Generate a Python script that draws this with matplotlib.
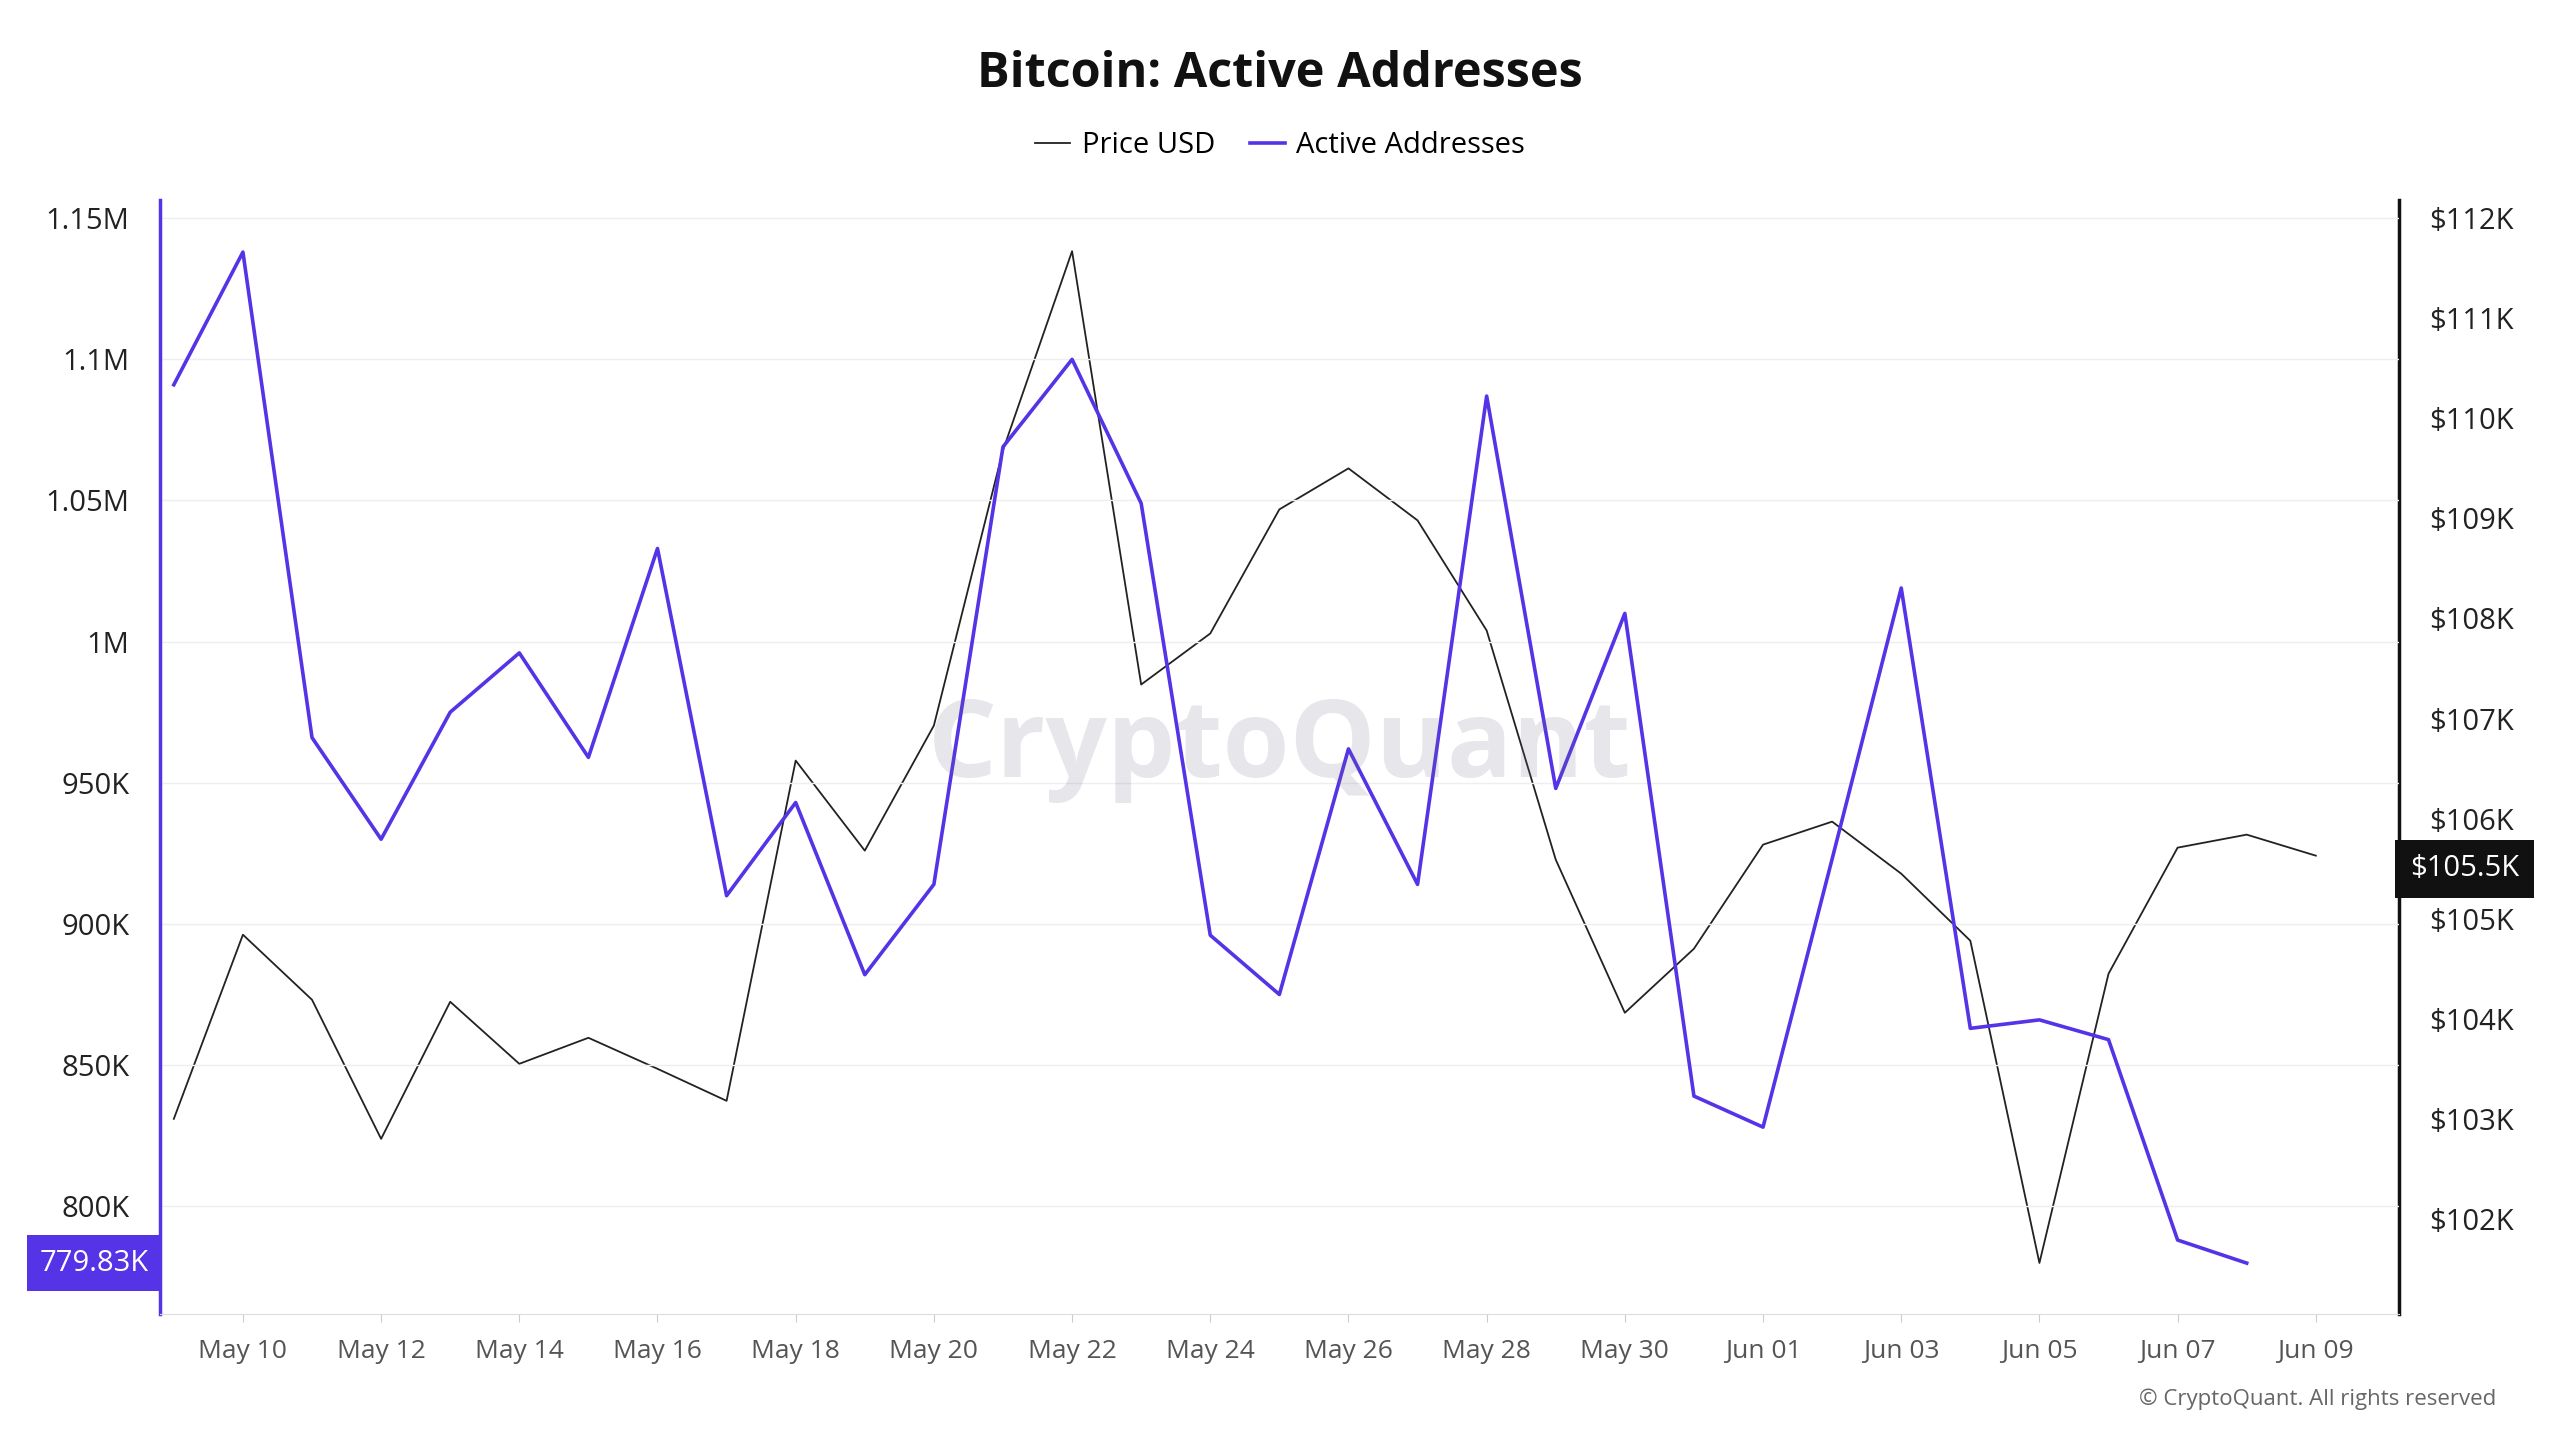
import matplotlib
matplotlib.use("Agg")
import matplotlib.pyplot as plt
import numpy as np
import pandas as pd

dates = pd.date_range("2025-05-09", "2025-06-09", freq="D")
active = [1091,1138,966,930,975,996,959,1033,910,943,882,914,1069,1100,1049,896,875,962,914,1087,948,1010,839,828,923,1019,863,866,859,788,779.83]
price = [103.0,104.84,104.19,102.80,104.17,103.55,103.81,103.50,103.18,106.58,105.68,106.93,109.68,111.67,107.34,107.85,109.09,109.50,108.98,107.88,105.59,104.06,104.70,105.74,105.97,105.45,104.78,101.56,104.45,105.71,105.84,105.63]
left_ticks = [800,850,900,950,1000,1050,1100,1150]
left_labels = ["800K","850K","900K","950K","1M","1.05M","1.1M","1.15M"]
right_ticks = list(range(102,113))

plt.rcParams["font.family"] = "Open Sans"
PURPLE = "#5533e6"
fig = plt.figure(figsize=(25.6,14.4), dpi=100)
ax = fig.add_axes([0.0625,0.0875,0.8745,0.7735])
ax2 = ax.twinx()
x = np.arange(len(dates))
ax2.plot(x, price, color="#222222", lw=1.3, zorder=2)
ax.plot(x[:len(active)], active, color=PURPLE, lw=2.6, zorder=3)
ax.set_zorder(ax2.get_zorder()+1); ax.patch.set_visible(False)
ax.set_xlim(-0.2, 32.2)
ax.set_ylim(761.8, 1156.4)
ax2.set_ylim(101.05, 112.18)
ax.set_yticks(left_ticks); ax.set_yticklabels(left_labels)
ax2.set_yticks(right_ticks); ax2.set_yticklabels([f"${t}K" for t in right_ticks])
xt = list(range(1, 32, 2))
ax.set_xticks(xt); ax.set_xticklabels([dates[i].strftime("%b %d") for i in xt])
ax.grid(axis="y", color="#eeeeee", lw=1)
for a in (ax, ax2):
    a.spines["top"].set_visible(False)
    a.tick_params(length=0, labelsize=21, colors="#222222")
ax.tick_params(axis="x", labelsize=19, colors="#555555", length=6, color="#cccccc", pad=12)
ax.tick_params(axis="y", pad=22)
ax2.tick_params(axis="y", pad=22)
ax.spines["left"].set_color(PURPLE); ax.spines["left"].set_linewidth(2.5)
ax2.spines["left"].set_visible(False)
ax.spines["right"].set_visible(False)
ax2.spines["right"].set_color("#111111"); ax2.spines["right"].set_linewidth(2.5)
ax.spines["bottom"].set_color("#dddddd"); ax2.spines["bottom"].set_visible(False)

fig.text(0.5, 0.948, "Bitcoin: Active Addresses", ha="center", va="center", fontsize=35, fontweight="bold", color="#111111")
from matplotlib.lines import Line2D
fig.legend([Line2D([],[],color="#222222",lw=1.3), Line2D([],[],color=PURPLE,lw=2.6)],
           ["Price USD","Active Addresses"], loc="center", bbox_to_anchor=(0.5,0.899),
           ncol=2, frameon=False, fontsize=21, handlelength=1.2, columnspacing=1.2, handletextpad=0.4)
fig.text(0.5, 0.48, "CryptoQuant", ha="center", va="center", fontsize=78, fontweight="bold", color="#706c8c", alpha=0.17)
fig.text(0.975, 0.028, "© CryptoQuant. All rights reserved", ha="right", va="center", fontsize=16, color="#666666")
ax.annotate("779.83K", xy=(0, active[-1]), xycoords=("axes fraction","data"), xytext=(-8,0), textcoords="offset points",
            ha="right", va="center", fontsize=21, color="white",
            bbox=dict(boxstyle="square,pad=0.45", fc=PURPLE, ec="none"))
ax2.annotate("$105.5K", xy=(1, 105.5), xycoords=("axes fraction","data"), xytext=(8,0), textcoords="offset points",
            ha="left", va="center", fontsize=21, color="white",
            bbox=dict(boxstyle="square,pad=0.5", fc="#111111", ec="none"))
fig.savefig("out.png", dpi=100)
